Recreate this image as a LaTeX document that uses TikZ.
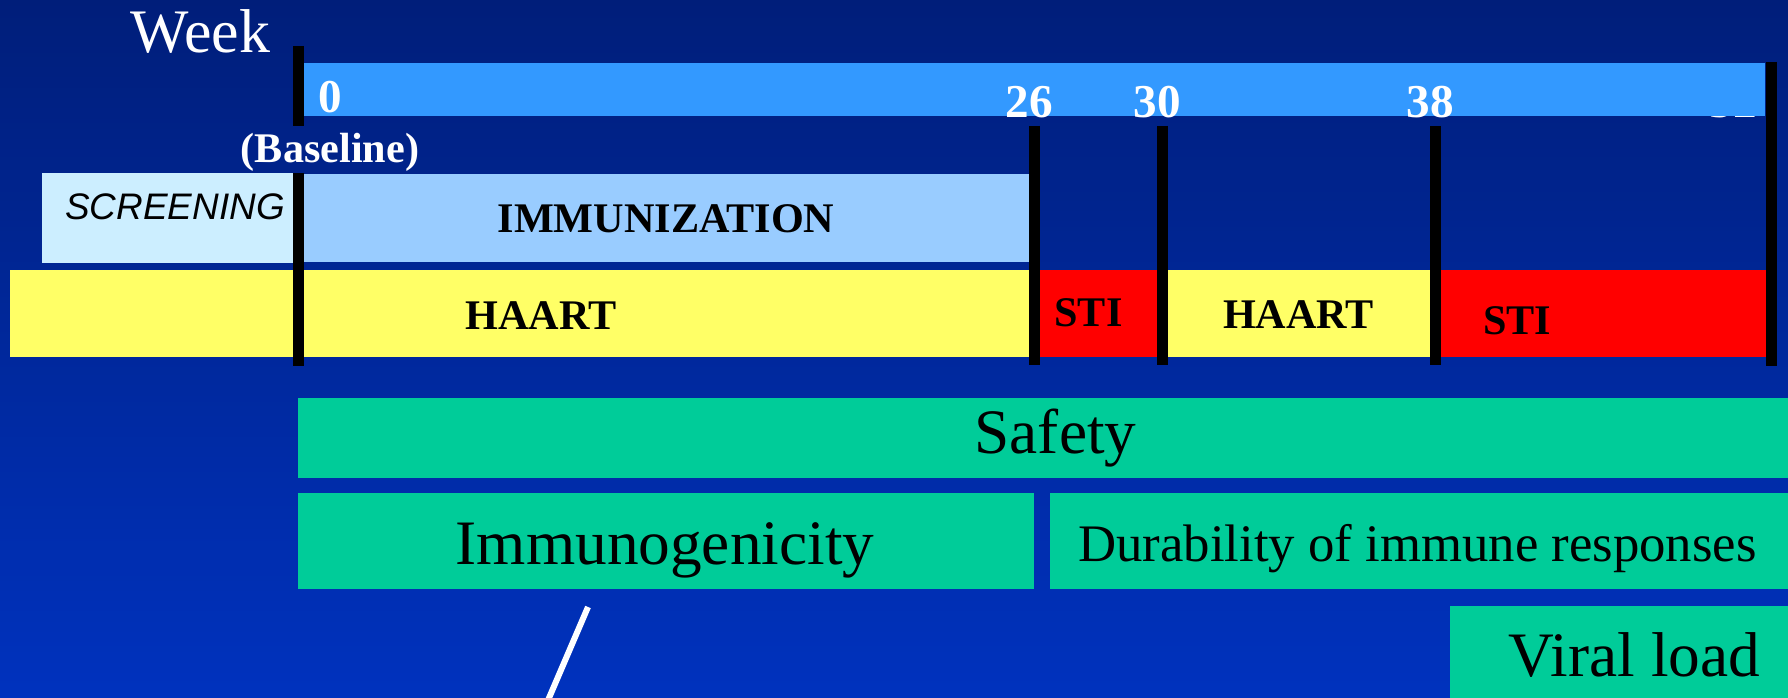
\documentclass[tikz,border=0pt]{standalone}
\usepackage{fontspec}
\setmainfont{Liberation Serif}
\setsansfont{Liberation Sans}

\definecolor{navytop}{RGB}{0,30,122}
\definecolor{navybot}{RGB}{0,50,190}
\definecolor{barblue}{RGB}{51,153,255}
\definecolor{immblue}{RGB}{153,204,255}
\definecolor{scrblue}{RGB}{204,238,255}
\definecolor{haartyel}{RGB}{255,255,102}
\definecolor{stired}{RGB}{255,0,0}
\definecolor{endgreen}{RGB}{0,204,153}

\tikzset{
	weekmark/.style={line width=0.11cm, black},
	weeklabel/.style={font=\fontsize{13.4}{14}\selectfont\bfseries, text=white, anchor=base, inner sep=0pt},
	phaselabel/.style={font=\fontsize{12}{13}\selectfont\bfseries, anchor=base, inner sep=0pt},
	endlabel/.style={font=\fontsize{18}{19}\selectfont, anchor=base, inner sep=0pt},
}

\begin{document}
\begin{tikzpicture}[x=0.01cm, y=-0.01cm]
		\shade[top color=navytop, bottom color=navybot] (0,0) rectangle (1788,698);
		\useasboundingbox (0,0) rectangle (1788,698);
		% time axis
		\node[anchor=base west, inner sep=0pt, text=white, font=\fontsize{17.6}{18}\selectfont] (week) at (130,53) {Week};
		\node[weeklabel] (wk52) at (1733.5,118) {52};
		\fill[barblue] (304,63) rectangle (1765,116);
		\node[weeklabel] (wk0) at (330,113) {0};
		\node[weeklabel, font=\fontsize{12}{13}\selectfont\bfseries] (baseline) at (330,163) {(Baseline)};
		% phases
		\fill[scrblue] (42,173) rectangle (298,263);
		\fill[immblue] (298,174) rectangle (1034,262);
		\fill[haartyel] (10,270) rectangle (1034,357);
		\fill[stired] (1034,270) rectangle (1162,357);
		\fill[haartyel] (1162,270) rectangle (1435,357);
		\fill[stired] (1435,270) rectangle (1771,357);
		% week marks
		\draw[weekmark] (298.5,46) -- (298.5,126) (298.5,173) -- (298.5,366);
		\foreach \xpos/\wk in {1034.5/26, 1162.5/30, 1435/38} {
			\draw[weekmark] (\xpos,126) -- (\xpos,365);
			\node[weeklabel] (wk\wk) at (\xpos-5,118) {\wk};
		}
		\draw[weekmark] (1771,62) -- (1771,366);
		\node[anchor=base, inner sep=0pt, font=\sffamily\itshape\fontsize{10.5}{11}\selectfont] (screening) at (175,220) {SCREENING};
		\node[phaselabel] (immunization) at (666,233) {IMMUNIZATION};
		\node[phaselabel] (haart1) at (541,330) {HAART};
		\node[phaselabel] (sti1) at (1088.5,327) {STI};
		\node[phaselabel] (haart2) at (1298.5,329) {HAART};
		\node[phaselabel] (sti2) at (1517,335) {STI};
		% endpoints
		\fill[endgreen] (298,398) rectangle (1788,478);
		\fill[endgreen] (298,493) rectangle (1034,589);
		\fill[endgreen] (1050,493) rectangle (1788,589);
		\fill[endgreen] (1450,606) rectangle (1788,698);
		\node[endlabel] (safety) at (1055.5,454) {Safety};
		\node[endlabel] (immuno) at (665,565) {Immunogenicity};
		\node[endlabel, font=\fontsize{15}{16}\selectfont] (durability) at (1417.5,562) {Durability of immune responses};
		\node[endlabel] (viral) at (1634.5,677) {Viral load};
		\coordinate (stroke top) at (588,607);
		\coordinate (stroke end) at (546,705);
		\draw[white, line width=0.06cm] (stroke top) -- (stroke end);
	\end{tikzpicture}
\end{document}
